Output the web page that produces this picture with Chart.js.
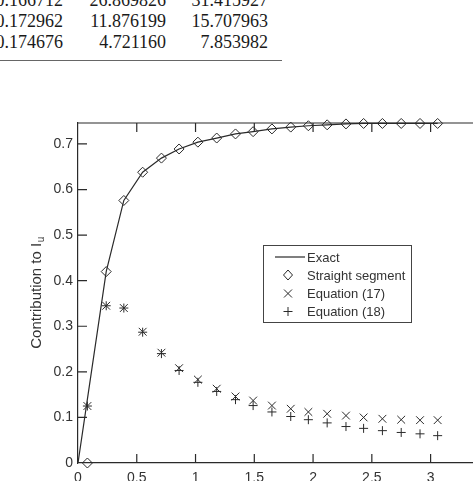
<!DOCTYPE html>
<html>
<head>
<meta charset="utf-8">
<script src="https://cdn.jsdelivr.net/npm/chart.js@4.4.0/dist/chart.umd.min.js"></script>
<style>
  html, body { margin: 0; padding: 0; background: #fff; overflow: hidden; }
  body { width: 473px; height: 481px; position: relative; }
  .tbl { position: absolute; left: 0; top: 0; width: 300px; height: 70px;
         font-family: "Liberation Serif", serif; font-size: 18px; color: #1a1a1a; }
  .cell { position: absolute; width: 110px; text-align: right; line-height: 20px; white-space: nowrap; }
  .rule { position: absolute; left: 0; top: 60px; width: 282px; border-top: 1.5px solid #666; }
  #wrap { position: absolute; left: 0; top: 0; width: 480px; height: 481px; }
</style>
</head>
<body>
<!-- bout du tableau au-dessus de la figure -->
<div class="tbl">
  <div class="cell" style="left:-47px; top:-10px">0.166712</div>
  <div class="cell" style="left:56px;  top:-10px">26.869826</div>
  <div class="cell" style="left:158px; top:-10px">31.415927</div>
  <div class="cell" style="left:-47px; top:11px">0.172962</div>
  <div class="cell" style="left:56px;  top:11px">11.876199</div>
  <div class="cell" style="left:158px; top:11px">15.707963</div>
  <div class="cell" style="left:-47px; top:32px">0.174676</div>
  <div class="cell" style="left:56px;  top:32px">4.721160</div>
  <div class="cell" style="left:158px; top:32px">7.853982</div>
  <div class="rule"></div>
</div>
<div id="wrap"><canvas id="contribChart"></canvas></div>

<script>
// abscisses des points
const xPts = [0.08, 0.24, 0.39, 0.55, 0.71, 0.86, 1.02, 1.18, 1.34, 1.49,
              1.65, 1.81, 1.96, 2.12, 2.28, 2.43, 2.59, 2.75, 2.91, 3.06];

// courbe exacte (part de l'origine)
const exactX = [0, 0.08, 0.24, 0.39, 0.55, 0.71, 0.86, 1.02, 1.18, 1.34, 1.49,
                1.65, 1.81, 1.96, 2.12, 2.28, 2.43, 2.59, 2.75, 2.91, 3.06];
const exactY = [0, 0.14, 0.42, 0.576, 0.638, 0.669, 0.689, 0.704, 0.713, 0.722, 0.727,
                0.733, 0.737, 0.740, 0.742, 0.744, 0.745, 0.745, 0.745, 0.745, 0.745];

// losanges : segment droit
const straightY = [0, 0.42, 0.576, 0.638, 0.669, 0.689, 0.704, 0.713, 0.722, 0.727,
                   0.733, 0.737, 0.740, 0.742, 0.744, 0.745, 0.745, 0.745, 0.745, 0.745];

// croix x : équation (17)
const eq17Y = [0.125, 0.345, 0.340, 0.288, 0.242, 0.208, 0.183, 0.163, 0.146, 0.137,
               0.126, 0.119, 0.112, 0.108, 0.104, 0.100, 0.097, 0.095, 0.094, 0.094];

// croix + : équation (18)
const eq18Y = [0.125, 0.345, 0.340, 0.287, 0.240, 0.203, 0.177, 0.157, 0.139, 0.126,
               0.112, 0.102, 0.095, 0.088, 0.080, 0.076, 0.071, 0.067, 0.064, 0.060];

const xTicks = [0, 0.5, 1, 1.5, 2, 2.5, 3];
const yTicks = [0, 0.1, 0.2, 0.3, 0.4, 0.5, 0.6, 0.7];

const labels = ['Exact', 'Straight segment', 'Equation (17)', 'Equation (18)'];

const ink = '#2a2a2a';
const txt = '#333';
const font = '"Liberation Sans", Arial, sans-serif';

const toPts = (xs, ys) => xs.map((x, i) => ({ x: x, y: ys[i] }));

// cadre : ligne du haut + graduations vers l'intérieur
const frameTicks = {
    id: 'frameTicks',
    beforeDatasetsDraw(chart) {
        const { ctx, chartArea: a, scales: { x, y } } = chart;
        ctx.save();
        ctx.strokeStyle = ink;
        ctx.lineWidth = 1.2;
        ctx.beginPath();
        ctx.moveTo(a.left, a.top);
        ctx.lineTo(a.right, a.top);
        xTicks.forEach(v => {
            if (v === 0) return;
            const px = x.getPixelForValue(v);
            ctx.moveTo(px, a.bottom); ctx.lineTo(px, a.bottom - 9);
            ctx.moveTo(px, a.top); ctx.lineTo(px, a.top + 9);
        });
        yTicks.forEach(v => {
            if (v === 0) return;
            const py = y.getPixelForValue(v);
            ctx.moveTo(a.left, py); ctx.lineTo(a.left + 9, py);
        });
        ctx.stroke();
        ctx.restore();
    }
};

// titre de l'axe Y avec indice
const yTitle = {
    id: 'yTitle',
    afterDraw(chart) {
        const { ctx, chartArea: a } = chart;
        const main = 'Contribution to I';
        ctx.save();
        ctx.translate(40.5, (a.top + a.bottom) / 2);
        ctx.rotate(-Math.PI / 2);
        ctx.fillStyle = txt;
        ctx.textBaseline = 'alphabetic';
        ctx.textAlign = 'left';
        ctx.font = '15px ' + font;
        const w1 = ctx.measureText(main).width;
        ctx.font = '10px ' + font;
        const w2 = ctx.measureText('u').width;
        const start = -(w1 + w2) / 2;
        ctx.font = '15px ' + font;
        ctx.fillText(main, start, 0);
        ctx.font = '10px ' + font;
        ctx.fillText('u', start + w1 + 0.5, 3);
        ctx.restore();
    }
};

// légende encadrée dans la zone du graphique
const boxLegend = {
    id: 'boxLegend',
    afterDraw(chart) {
        const ctx = chart.ctx;
        const bx = 263.5, by = 245.5, bw = 148, bh = 77;
        const symX = 288, textX = 307;
        const rows = [257, 275, 293.5, 311.5];
        ctx.save();
        ctx.fillStyle = '#fff';
        ctx.fillRect(bx, by, bw, bh);
        ctx.strokeStyle = '#444';
        ctx.lineWidth = 1;
        ctx.strokeRect(bx, by, bw, bh);

        ctx.strokeStyle = ink;
        ctx.lineWidth = 1.2;
        // Exact : trait
        ctx.beginPath();
        ctx.moveTo(275, rows[0]); ctx.lineTo(305, rows[0]);
        ctx.stroke();
        ctx.lineWidth = 1;
        // losange
        ctx.beginPath();
        ctx.moveTo(symX - 4.5, rows[1]); ctx.lineTo(symX, rows[1] - 5);
        ctx.lineTo(symX + 4.5, rows[1]); ctx.lineTo(symX, rows[1] + 5);
        ctx.closePath();
        ctx.stroke();
        // croix x
        const c = 4;
        ctx.beginPath();
        ctx.moveTo(symX - c, rows[2] - c); ctx.lineTo(symX + c, rows[2] + c);
        ctx.moveTo(symX - c, rows[2] + c); ctx.lineTo(symX + c, rows[2] - c);
        // croix +
        ctx.moveTo(symX - 4.5, rows[3]); ctx.lineTo(symX + 4.5, rows[3]);
        ctx.moveTo(symX, rows[3] - 4.5); ctx.lineTo(symX, rows[3] + 4.5);
        ctx.stroke();

        ctx.fillStyle = txt;
        ctx.font = '13px ' + font;
        ctx.textBaseline = 'middle';
        ctx.textAlign = 'left';
        labels.forEach((l, i) => ctx.fillText(l, textX, rows[i] + 1));
        ctx.restore();
    }
};

const ctx = document.getElementById('contribChart').getContext('2d');
new Chart(ctx, {
    type: 'scatter',
    data: {
        datasets: [
            {
                label: labels[0],
                data: toPts(exactX, exactY),
                showLine: true,
                borderColor: ink,
                borderWidth: 1.2,
                pointRadius: 0,
                tension: 0,
                clip: false
            },
            {
                label: labels[1],
                data: toPts(xPts, straightY),
                pointStyle: 'rectRot',
                pointRadius: 5,
                pointBorderColor: ink,
                pointBackgroundColor: 'rgba(0,0,0,0)',
                pointBorderWidth: 1,
                clip: false
            },
            {
                label: labels[2],
                data: toPts(xPts, eq17Y),
                pointStyle: 'crossRot',
                pointRadius: 5.5,
                pointBorderColor: ink,
                pointBorderWidth: 1,
                clip: false
            },
            {
                label: labels[3],
                data: toPts(xPts, eq18Y),
                pointStyle: 'cross',
                pointRadius: 4.5,
                pointBorderColor: ink,
                pointBorderWidth: 1,
                clip: false
            }
        ]
    },
    options: {
        responsive: true,
        maintainAspectRatio: false,
        animation: false,
        events: [],
        layout: { padding: { top: 123, left: 0, right: 0, bottom: 0 } },
        plugins: {
            legend: { display: false },
            tooltip: { enabled: false }
        },
        scales: {
            x: {
                type: 'linear',
                min: 0,
                max: 3.365,
                afterBuildTicks: s => { s.ticks = xTicks.map(v => ({ value: v })); },
                afterFit: s => { s.height = 18; },
                grid: { display: false, drawTicks: false },
                border: { display: true, color: ink, width: 1.2 },
                ticks: {
                    autoSkip: false, maxRotation: 0, padding: 7,
                    color: txt, font: { family: font, size: 14 },
                    callback: v => String(v)
                }
            },
            y: {
                min: 0,
                max: 0.746,
                afterBuildTicks: s => { s.ticks = yTicks.map(v => ({ value: v })); },
                afterFit: s => { s.width = 78; },
                grid: { display: false, drawTicks: false },
                border: { display: true, color: ink, width: 1.2 },
                ticks: {
                    padding: 5,
                    color: txt, font: { family: font, size: 14 },
                    callback: v => String(v)
                }
            }
        }
    },
    plugins: [frameTicks, yTitle, boxLegend]
});
</script>
</body>
</html>
